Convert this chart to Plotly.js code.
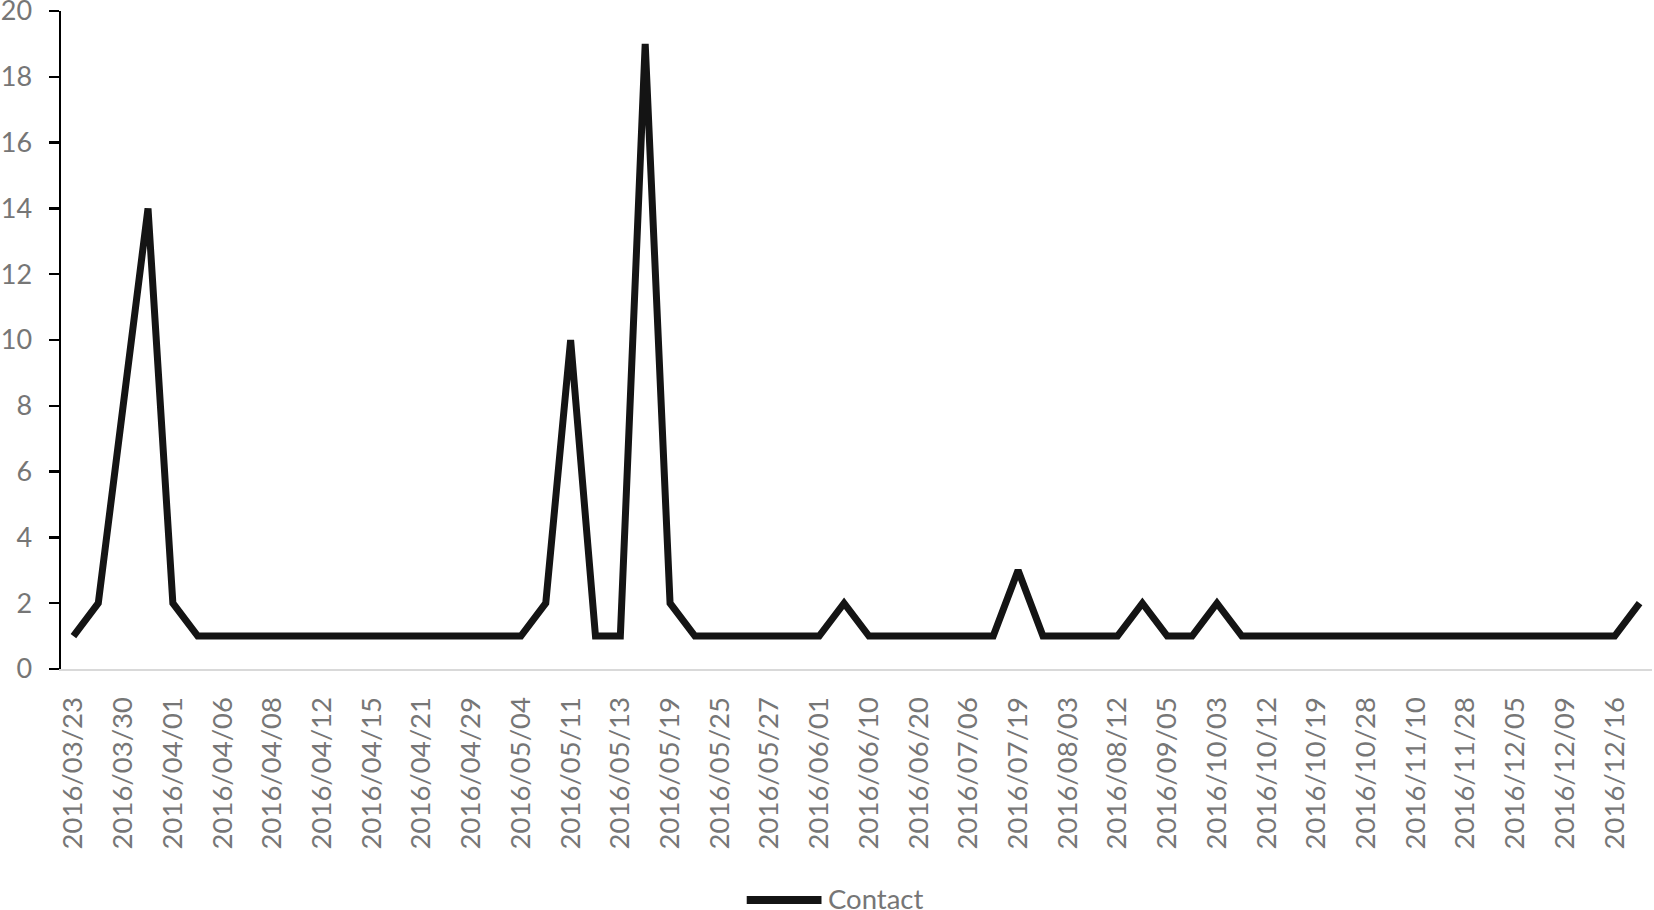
<!DOCTYPE html>
<html>
<head>
<meta charset="utf-8">
<script src="https://cdn.plot.ly/plotly-3.0.1.min.js"></script>
<style>
  html, body { margin: 0; padding: 0; background: #ffffff; }
  #chart { width: 1654px; height: 910px; }
</style>
</head>
<body>
<div id="chart"></div>
<script>
// Labeled dates (every other category is labeled on the axis)
const tickLabels = [
  "2016/03/23", "2016/03/30", "2016/04/01", "2016/04/06", "2016/04/08",
  "2016/04/12", "2016/04/15", "2016/04/21", "2016/04/29", "2016/05/04",
  "2016/05/11", "2016/05/13", "2016/05/19", "2016/05/25", "2016/05/27",
  "2016/06/01", "2016/06/10", "2016/06/20", "2016/07/06", "2016/07/19",
  "2016/08/03", "2016/08/12", "2016/09/05", "2016/10/03", "2016/10/12",
  "2016/10/19", "2016/10/28", "2016/11/10", "2016/11/28", "2016/12/05",
  "2016/12/09", "2016/12/16"
];

// Contact counts, one per category (64 categories)
const contactValues = [
  1, 2, 8, 14, 2, 1, 1, 1, 1, 1,
  1, 1, 1, 1, 1, 1, 1, 1, 1, 2,
  10, 1, 1, 19, 2, 1, 1, 1, 1, 1,
  1, 2, 1, 1, 1, 1, 1, 1, 3, 1,
  1, 1, 1, 2, 1, 1, 2, 1, 1, 1,
  1, 1, 1, 1, 1, 1, 1, 1, 1, 1,
  1, 1, 1, 2
];

const seriesName = "Contact";

const xIndex = contactValues.map((v, i) => i);
const tickPositions = tickLabels.map((t, i) => i * 2);

const textColor = "#767676";
const fontFamily = "Lato, 'Open Sans', 'Liberation Sans', sans-serif";
const fontSize = 27.5;

const trace = {
  type: "scatter",
  mode: "lines",
  name: seriesName,
  x: xIndex,
  y: contactValues,
  line: { color: "#141414", width: 7 },
  showlegend: false,
  hoverinfo: "x+y"
};

const layout = {
  width: 1654,
  height: 910,
  paper_bgcolor: "#ffffff",
  plot_bgcolor: "#ffffff",
  margin: { l: 61, r: 2, t: 11, b: 241, pad: 0 },
  font: { family: fontFamily, size: fontSize, color: textColor },
  showlegend: false,
  xaxis: {
    range: [-0.5, contactValues.length - 0.5],
    tickmode: "array",
    tickvals: tickPositions,
    ticktext: tickLabels,
    tickangle: -90,
    ticks: "",
    ticklabelstandoff: 15,
    ticklabeloverflow: "allow",
    showgrid: false,
    zeroline: false,
    showline: true,
    linecolor: "#d9d9d9",
    linewidth: 2,
    tickfont: { family: fontFamily, size: fontSize, color: textColor },
    fixedrange: true
  },
  yaxis: {
    range: [0, 20],
    tickmode: "linear",
    tick0: 0,
    dtick: 2,
    ticks: "outside",
    ticklen: 10,
    tickwidth: 2.5,
    tickcolor: "#000000",
    ticklabelstandoff: 11,
    ticklabeloverflow: "allow",
    showgrid: false,
    zeroline: false,
    showline: true,
    linecolor: "#000000",
    linewidth: 2.5,
    tickfont: { family: fontFamily, size: 27, color: textColor },
    fixedrange: true
  },
  shapes: [
    {
      type: "line",
      xref: "paper", yref: "paper",
      x0: 0.431, x1: 0.478, y0: -0.351, y1: -0.351,
      line: { color: "#141414", width: 8 }
    }
  ],
  annotations: [
    {
      xref: "paper", yref: "paper",
      x: 0.481, y: -0.349,
      xanchor: "left", yanchor: "middle",
      text: seriesName,
      showarrow: false,
      font: { family: fontFamily, size: fontSize, color: textColor }
    }
  ]
};

Plotly.newPlot("chart", [trace], layout, { displayModeBar: false, staticPlot: true });
</script>
</body>
</html>
